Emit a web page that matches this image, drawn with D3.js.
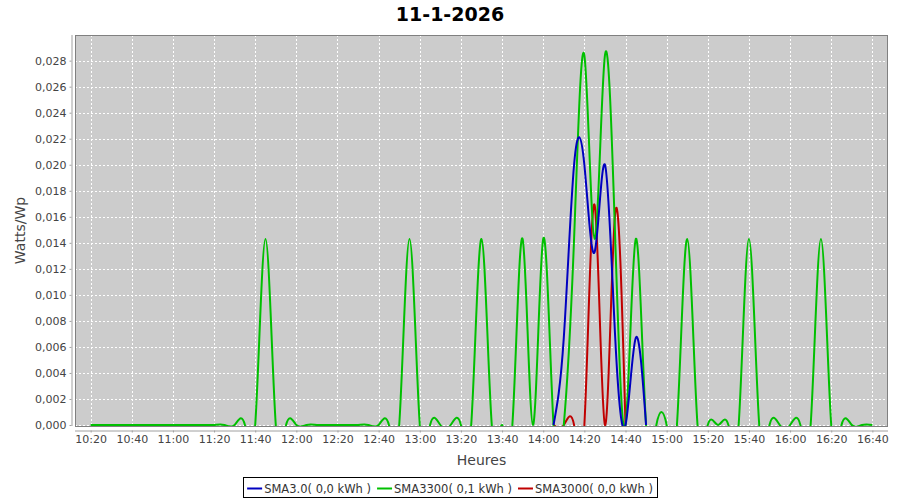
<!DOCTYPE html>
<html>
<head>
<meta charset="utf-8">
<script src="https://cdn.jsdelivr.net/npm/d3@7"></script>
<style>
  html, body { margin: 0; padding: 0; background: #ffffff; }
  svg { display: block; font-family: "DejaVu Sans", Verdana, sans-serif; }
</style>
</head>
<body>
<svg id="chart" width="900" height="500"></svg>
<script>
// ---------- DATA ----------
const title = "11-1-2026";
const yAxisTitle = "Watts/Wp";
const xAxisTitle = "Heures";

const greenTimes = [
  "10:20","10:25","10:30","10:35","10:40","10:45","10:50","10:55",
  "11:00","11:05","11:10","11:15","11:20","11:25","11:30","11:35","11:40","11:45","11:50","11:55",
  "12:00","12:05","12:10","12:15","12:20","12:25","12:30","12:35","12:40","12:45","12:50","12:55",
  "13:00","13:05","13:10","13:15","13:20","13:25","13:30","13:35","13:40","13:45","13:50","13:55",
  "14:00","14:05","14:10","14:15","14:20","14:25","14:30","14:35","14:40","14:45","14:50","14:55",
  "15:00","15:05","15:10","15:15","15:20","15:25","15:30","15:35","15:40","15:45","15:50","15:55",
  "16:00","16:05","16:10","16:15","16:20","16:25","16:30","16:35","16:40"
];
const greenValues = [
  0,0,0,0,0,0,0,0,
  0,0,0,0,0,0,0,0,0,0.0143,0,0,
  0,0,0,0,0,0,0,0,0,0,0,0.0143,
  0,0,0,0,0,0,0.0143,0,0,0,0.0143,0,
  0.0143,0,0,0.0143,0.0284,0.0143,0.0284,0.0143,0,0.0143,0,0,
  0,0,0.0143,0,0,0,0,0,0.0143,0,0,0,
  0,0,0,0.0143,0,0,0,0,0
];

const blueTimes  = ["14:05","14:10","14:15","14:20","14:25","14:30","14:35","14:40","14:45","14:50"];
const blueValues = [0, 0.0067, 0.0200, 0.0200, 0.0133, 0.0200, 0.0067, 0, 0.0067, 0];

const redTimes  = ["14:05","14:10","14:15","14:20","14:25","14:30","14:35","14:40"];
const redValues = [0, 0, 0, 0, 0.0169, 0, 0.0163, 0];

const seriesNames  = ["SMA3.0( 0,0 kWh )", "SMA3300( 0,1 kWh )", "SMA3000( 0,0 kWh )"];
const seriesColors = ["#0000c0", "#00c000", "#c00000"];

const xTickLabels = ["10:20","10:40","11:00","11:20","11:40","12:00","12:20","12:40","13:00",
  "13:20","13:40","14:00","14:20","14:40","15:00","15:20","15:40","16:00","16:20","16:40"];
const yTickValues = [0,0.002,0.004,0.006,0.008,0.010,0.012,0.014,0.016,0.018,0.020,0.022,0.024,0.026,0.028];

// ---------- LAYOUT ----------
const plot = { left: 75, top: 35, right: 888, bottom: 426 };
const toMin = s => { const [h, m] = s.split(":").map(Number); return h * 60 + m; };

const svg = d3.select("#chart");

const dataMin = toMin(greenTimes[0]), dataMax = toMin(greenTimes[greenTimes.length - 1]);
const margin = (dataMax - dataMin) * 0.02;
const x = d3.scaleLinear().domain([dataMin - margin, dataMax + margin]).range([plot.left, plot.right]);
const y = d3.scaleLinear().domain([0, 0.02997]).range([plot.bottom - 1, plot.top]);

// plot background
svg.append("rect")
  .attr("x", plot.left).attr("y", plot.top)
  .attr("width", plot.right - plot.left).attr("height", plot.bottom - plot.top)
  .attr("fill", "#cccccc");

// gridlines
const grid = svg.append("g");
grid.selectAll("line.v").data(xTickLabels).enter().append("line")
  .attr("x1", d => Math.round(x(toMin(d))) + 0.5).attr("x2", d => Math.round(x(toMin(d))) + 0.5)
  .attr("y1", plot.top).attr("y2", plot.bottom)
  .attr("stroke", "#ffffff").attr("stroke-width", 1).attr("stroke-dasharray", "2,2");
grid.selectAll("line.h").data(yTickValues).enter().append("line")
  .attr("y1", d => Math.round(y(d)) + 0.5).attr("y2", d => Math.round(y(d)) + 0.5)
  .attr("x1", plot.left).attr("x2", plot.right)
  .attr("stroke", "#ffffff").attr("stroke-width", 1).attr("stroke-dasharray", "2,2");

// clip
svg.append("defs").append("clipPath").attr("id", "plotclip")
  .append("rect").attr("x", plot.left).attr("y", plot.top)
  .attr("width", plot.right - plot.left).attr("height", plot.bottom - plot.top);

const line = d3.line()
  .x(d => x(toMin(d[0])))
  .y(d => y(d[1]))
  .curve(d3.curveNatural);

const series = [
  { times: blueTimes,  values: blueValues,  color: seriesColors[0] },
  { times: greenTimes, values: greenValues, color: seriesColors[1] },
  { times: redTimes,   values: redValues,   color: seriesColors[2] }
];

const lines = svg.append("g").attr("clip-path", "url(#plotclip)");
// JFreeChart default: reverse rendering order (first series on top)
series.slice().reverse().forEach(s => {
  const pts = s.times.map((t, i) => [t, s.values[i]]);
  lines.append("path")
    .attr("d", line(pts))
    .attr("fill", "none")
    .attr("stroke", s.color)
    .attr("stroke-width", 2)
    .attr("stroke-linejoin", "round");
});

// plot outline
svg.append("rect")
  .attr("x", plot.left + 0.5).attr("y", plot.top + 0.5)
  .attr("width", plot.right - plot.left - 1).attr("height", plot.bottom - plot.top)
  .attr("fill", "none").attr("stroke", "#808080").attr("stroke-width", 1);

// axes
const fmtY = d => d3.format(".3f")(d).replace(".", ",");
const yAxis = d3.axisLeft(y).tickValues(yTickValues).tickFormat(fmtY).tickSizeInner(2).tickSizeOuter(0).tickPadding(3);
const gy = svg.append("g").attr("transform", `translate(${plot.left - 3.5},0)`).call(yAxis);
const xAxis = d3.axisBottom(x).tickValues(xTickLabels.map(toMin))
  .tickFormat((d, i) => xTickLabels[i]).tickSizeInner(2).tickSizeOuter(0).tickPadding(3);
const gx = svg.append("g").attr("transform", `translate(0,${plot.bottom + 4.5})`).call(xAxis);

[gx, gy].forEach(g => {
  g.selectAll("path.domain").attr("stroke", "#a0a0a0");
  g.selectAll(".tick line").attr("stroke", "#a0a0a0");
  g.selectAll("text").attr("fill", "#444444").style("font-size", "11px")
    .style("font-family", "'DejaVu Sans', Verdana, sans-serif");
});
gy.select("path.domain").attr("d", `M0.5,${plot.top}V${plot.bottom}`);
gx.select("path.domain").attr("d", `M${plot.left},0.5H${plot.right}`);

// axis titles
svg.append("text")
  .attr("x", (plot.left + plot.right) / 2).attr("y", 465)
  .attr("text-anchor", "middle").attr("fill", "#444444")
  .style("font-size", "14px").text(xAxisTitle);
svg.append("text")
  .attr("transform", `translate(25,${(plot.top + plot.bottom) / 2}) rotate(-90)`)
  .attr("text-anchor", "middle").attr("fill", "#444444")
  .style("font-size", "14px").text(yAxisTitle);

// title
svg.append("text")
  .attr("x", 450).attr("y", 21)
  .attr("text-anchor", "middle").attr("fill", "#000000")
  .style("font-size", "19px").style("font-weight", "bold").text(title);

// legend
const legendBox = svg.append("rect");
const legend = svg.append("g");
let cx = 0;
seriesNames.forEach((name, i) => {
  const g = legend.append("g");
  g.append("line").attr("x1", 0).attr("x2", 15).attr("y1", 0.5).attr("y2", 0.5)
    .attr("stroke", seriesColors[i]).attr("stroke-width", 2);
  const t = g.append("text").attr("x", 17).attr("y", 5).attr("fill", "#333333")
    .style("font-size", "11.5px").text(name);
  const w = 17 + t.node().getComputedTextLength();
  g.attr("transform", `translate(${cx},0)`);
  cx += w + 6;
});
const totalW = cx - 6;
const lx = 450 - totalW / 2;
legend.attr("transform", `translate(${lx},488)`);
legendBox
  .attr("x", Math.round(lx - 4) + 0.5).attr("y", 477.5)
  .attr("width", Math.round(totalW + 8)).attr("height", 20)
  .attr("fill", "#ffffff").attr("stroke", "#000000").attr("stroke-width", 1);
</script>
</body>
</html>
